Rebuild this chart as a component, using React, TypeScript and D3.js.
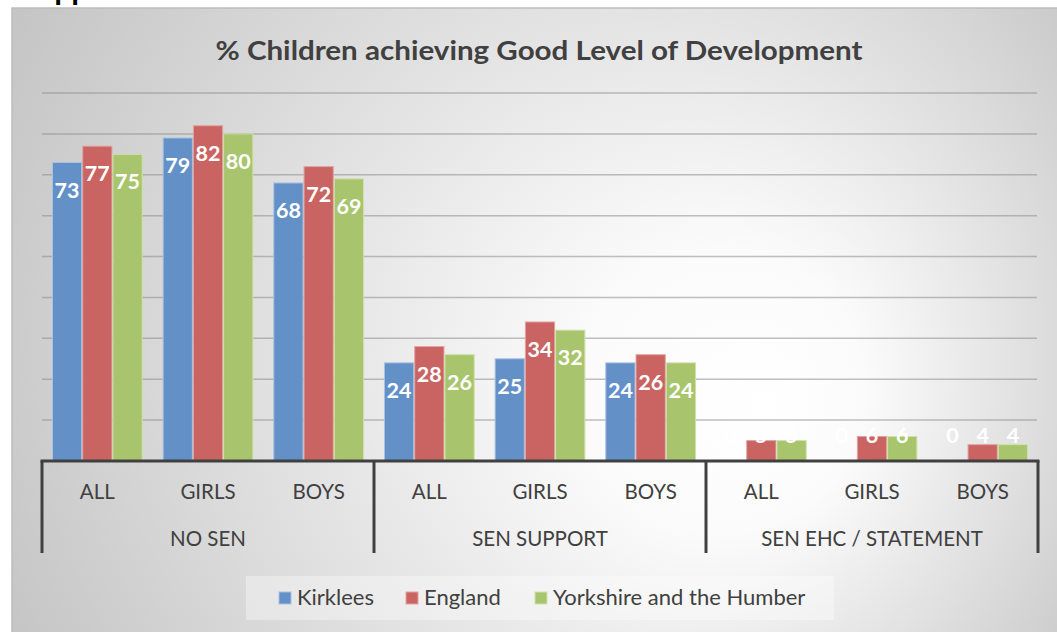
import React, { useMemo } from 'react';
import * as d3 from 'd3';

const subGroups = ['ALL', 'GIRLS', 'BOYS', 'ALL', 'GIRLS', 'BOYS', 'ALL', 'GIRLS', 'BOYS'];
const mainGroups = ['NO SEN', 'SEN SUPPORT', 'SEN EHC / STATEMENT'];
const seriesNames = ['Kirklees', 'England', 'Yorkshire and the Humber'];
const kirklees = [73, 79, 68, 24, 25, 24, 0, 0, 0];
const england = [77, 82, 72, 28, 34, 26, 5, 6, 4];
const yorkshire = [75, 80, 69, 26, 32, 24, 5, 6, 4];
const gridTicks = [10, 20, 30, 40, 50, 60, 70, 80, 90];

const fills = ['#6390c7', '#c96462', '#a8c46c'];
const strokes = ['#a9c2e2', '#e2a3a1', '#cfe1ab'];
const textColor = '#404040';
const font = 'Lato, "Open Sans", sans-serif';

const W = 1057;
const H = 632;
const plot = { left: 42, right: 1038, top: 93, bottom: 461 };

const App: React.FC = () => {
  const seriesValues = [kirklees, england, yorkshire];
  const keys = subGroups.map((_, i) => `c${i}`);

  const { x0, x1, y } = useMemo(() => {
    const x0 = d3.scaleBand<string>()
      .domain(keys)
      .range([plot.left, plot.right])
      .paddingInner(0.18)
      .paddingOuter(0.09);
    const x1 = d3.scaleBand<string>()
      .domain(seriesNames)
      .range([0, x0.bandwidth()])
      .padding(0);
    const y = d3.scaleLinear().domain([0, 90]).range([plot.bottom, plot.top]);
    return { x0, x1, y };
  }, []);

  const step = x0.step();
  // boundaries between the three main groups
  const bounds = d3.range(mainGroups.length + 1).map(i => plot.left + i * 3 * step);

  const legendItems = [
    { x: 279, textX: 297 },
    { x: 406, textX: 424 },
    { x: 535, textX: 553 },
  ];

  return (
    <svg width={W} height={H} style={{ position: 'absolute', left: 0, top: 0 }}>
      <defs>
        <radialGradient id="bgGrad" gradientUnits="userSpaceOnUse"
          cx={560} cy={330} r={640} fx={770} fy={410}>
          <stop offset="0%" stopColor="#ffffff" />
          <stop offset="22%" stopColor="#fbfbfb" />
          <stop offset="60%" stopColor="#e0e0e0" />
          <stop offset="100%" stopColor="#c4c4c4" />
        </radialGradient>
      </defs>
      <rect x={0} y={0} width={W} height={H} fill="#ffffff" />
      {/* heading text above the chart, cut by the page edge */}
      <text x={34} y={-1} fontFamily='"Liberation Sans", Arial, sans-serif' fontWeight="bold"
        fontSize={28} fill="#000">App</text>
      <rect x={12} y={8} width={W} height={H} fill="url(#bgGrad)" stroke="#bdbdbd" strokeWidth={1.5} />

      <text x={539} y={60} textAnchor="middle" fontFamily={font} fontWeight="bold"
        fontSize={26} fill={textColor} textLength={647} lengthAdjust="spacingAndGlyphs">
        % Children achieving Good Level of Development
      </text>

      {gridTicks.map(t => (
        <line key={t} x1={plot.left} x2={plot.right - 1} y1={y(t)} y2={y(t)}
          stroke="#8c8c8c" strokeOpacity={0.55} strokeWidth={1.5} />
      ))}

      {keys.map((k, i) => (
        <g key={k} transform={`translate(${x0(k)},0)`}>
          {seriesNames.map((s, si) => {
            const v = seriesValues[si][i];
            const top = y(v);
            return (
              <rect key={s} x={x1(s)! + 0.5} y={top} width={x1.bandwidth() - 1}
                height={Math.max(0, plot.bottom - top)} fill={fills[si]}
                stroke={strokes[si]} strokeWidth={1} />
            );
          })}
        </g>
      ))}

      {keys.map((k, i) => (
        <g key={`l${k}`} transform={`translate(${x0(k)},0)`}>
          {seriesNames.map((s, si) => {
            const v = seriesValues[si][i];
            const baseY = Math.min(y(v) + 35, plot.bottom - 18);
            return (
              <text key={s} x={x1(s)! + x1.bandwidth() / 2} y={baseY} textAnchor="middle"
                fontFamily={font} fontWeight="bold" fontSize={21.5} fill="#ffffff">
                {v}
              </text>
            );
          })}
        </g>
      ))}

      {/* multi-level category axis */}
      <line x1={plot.left - 1.5} x2={plot.right + 1.5} y1={plot.bottom} y2={plot.bottom}
        stroke={textColor} strokeWidth={3} />
      {bounds.map((b, i) => (
        <line key={i} x1={b} x2={b} y1={plot.bottom} y2={553} stroke={textColor} strokeWidth={3} />
      ))}
      {keys.map((k, i) => (
        <text key={`t${k}`} x={x0(k)! + x0.bandwidth() / 2} y={499} textAnchor="middle"
          fontFamily={font} fontSize={20.5} fill={textColor}>
          {subGroups[i]}
        </text>
      ))}
      {mainGroups.map((m, i) => (
        <text key={m} x={(bounds[i] + bounds[i + 1]) / 2} y={546} textAnchor="middle"
          fontFamily={font} fontSize={20.5} fill={textColor}>
          {m}
        </text>
      ))}

      {/* legend */}
      <rect x={246} y={576} width={588} height={44} fill="#ffffff" fillOpacity={0.35} />
      {seriesNames.map((s, i) => (
        <g key={s}>
          <rect x={legendItems[i].x} y={592} width={12} height={12} fill={fills[i]}
            stroke={strokes[i]} strokeWidth={1} />
          <text x={legendItems[i].textX} y={605} fontFamily={font} fontSize={22} fill={textColor}>
            {s}
          </text>
        </g>
      ))}
    </svg>
  );
};

export default App;
